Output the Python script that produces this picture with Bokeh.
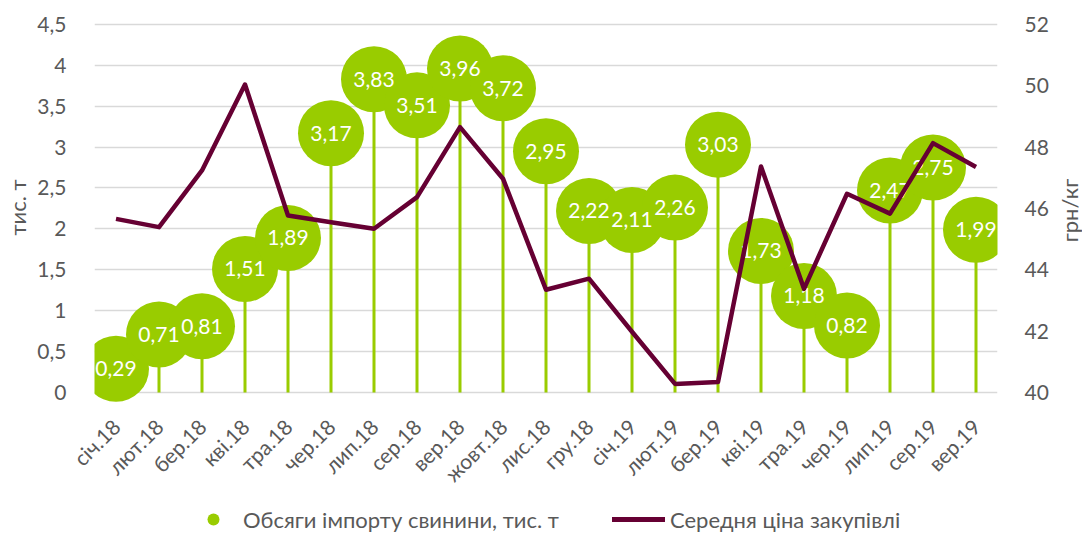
import math
from bokeh.plotting import figure
from bokeh.layouts import column, row
from bokeh.models import (Range1d, FactorRange, LinearAxis, FixedTicker, Label,
                          Legend, LegendItem, ColumnDataSource, CustomJSTickFormatter)
from bokeh.core.properties import value
from bokeh.embed import file_html
from bokeh.resources import INLINE

months = ["січ.18", "лют.18", "бер.18", "кві.18", "тра.18", "чер.18", "лип.18",
          "сер.18", "вер.18", "жовт.18", "лис.18", "гру.18", "січ.19", "лют.19",
          "бер.19", "кві.19", "тра.19", "чер.19", "лип.19", "сер.19", "вер.19"]
volumes = [0.29, 0.71, 0.81, 1.51, 1.89, 3.17, 3.83, 3.51, 3.96, 3.72, 2.95,
           2.22, 2.11, 2.26, 3.03, 1.73, 1.18, 0.82, 2.47, 2.75, 1.99]
prices = [45.66, 45.39, 47.24, 50.04, 45.77, 45.55, 45.34, 46.37, 48.65, 46.97,
          43.35, 43.71, 41.98, 40.28, 40.34, 47.37, 43.38, 46.48, 45.83, 48.13, 47.35]
volume_labels = [f"{v:.2f}".replace(".", ",") for v in volumes]
left_ticks = [0, 0.5, 1, 1.5, 2, 2.5, 3, 3.5, 4, 4.5]
right_ticks = [40, 42, 44, 46, 48, 50, 52]
series_names = ["Обсяги імпорту свинини, тис. т", "Середня ціна закупівлі"]
axis_titles = ["тис. т", "грн/кг"]

GREEN = "#99CC00"
MAROON = "#660033"
GRID = "#D9D9D9"
TXT = "#595959"
FONT = "Lato"

W, H = 1082, 533
LS_W, RS_W, LEG_H = 34, 28, 30
MAIN_W, MAIN_H = W - LS_W - RS_W, H - LEG_H
FRAME_H = 408

y_lo, y_hi = -0.1956, 4.792
scale = (right_ticks[-1] - right_ticks[0]) / (left_ticks[-1] - left_ticks[0])
p_lo = right_ticks[0] + y_lo * scale
p_hi = right_ticks[0] + y_hi * scale

p = figure(width=MAIN_W, height=MAIN_H, x_range=FactorRange(*months),
           y_range=Range1d(y_lo, y_hi), output_backend="svg", toolbar_location=None,
           min_border_left=57, min_border_right=57, min_border_top=0,
           min_border_bottom=MAIN_H - FRAME_H)
p.extra_y_ranges = {"price": Range1d(p_lo, p_hi)}
p.outline_line_color = None
p.background_fill_color = "white"
p.border_fill_color = "white"

fmt = CustomJSTickFormatter(code="return tick.toString().replace('.', ',');")

ya = p.yaxis[0]
ya.ticker = FixedTicker(ticks=left_ticks)
ya.formatter = fmt
ya.axis_line_color = None
ya.major_tick_line_color = None
ya.minor_tick_line_color = None
ya.major_label_standoff = 22
ya.major_label_text_font = FONT
ya.major_label_text_font_size = "21px"
ya.major_label_text_color = TXT

ra = LinearAxis(y_range_name="price", ticker=FixedTicker(ticks=right_ticks))
ra.axis_line_color = None
ra.major_tick_line_color = None
ra.minor_tick_line_color = None
ra.major_label_standoff = 21
ra.major_label_text_font = FONT
ra.major_label_text_font_size = "21px"
ra.major_label_text_color = TXT
p.add_layout(ra, "right")

xa = p.xaxis[0]
xa.axis_line_color = None
xa.major_tick_line_color = None
xa.minor_tick_line_color = None
xa.major_label_orientation = math.pi / 4
xa.major_label_standoff = 8
xa.major_label_text_font = FONT
xa.major_label_text_font_size = "21px"
xa.major_label_text_color = TXT

p.xgrid.grid_line_color = None
p.ygrid.ticker = FixedTicker(ticks=left_ticks)
p.ygrid.grid_line_color = GRID
p.ygrid.grid_line_width = 1.5

src = ColumnDataSource(dict(m=months, v=volumes, lab=volume_labels, pr=prices,
                            zero=[0] * len(months)))

p.segment(x0="m", y0="zero", x1="m", y1="v", source=src, line_color=GREEN, line_width=3)
p.scatter(x="m", y="v", source=src, size=66, fill_color=GREEN, line_color=None)
p.text(x="m", y="v", text="lab", source=src, text_align="center", text_baseline="middle",
       text_color="white", text_font=value(FONT), text_font_size="21px")
p.line(x="m", y="pr", source=src, y_range_name="price", line_color=MAROON,
       line_width=4.5, line_join="round")


def strip(w, h, frame_h=None):
    fh = h if frame_h is None else frame_h
    f = figure(width=w, height=h, x_range=Range1d(0, w), y_range=Range1d(0, fh),
               output_backend="svg", toolbar_location=None, x_axis_location=None,
               y_axis_location=None, min_border=0, min_border_left=0, min_border_right=0,
               min_border_top=0, min_border_bottom=h - fh)
    f.grid.visible = False
    f.outline_line_color = None
    f.background_fill_color = "white"
    f.border_fill_color = "white"
    return f


def vlabel(x, y, text):
    return Label(x=x, y=y, text=text, angle=math.pi / 2, text_align="center",
                 text_baseline="middle", text_font=FONT, text_font_size="22px",
                 text_color=TXT)


# axis titles in side strips (frames aligned with the main frame)
ls = strip(LS_W, MAIN_H, FRAME_H)
ls.add_layout(vlabel(17, FRAME_H - 207, axis_titles[0]))
rs = strip(RS_W, MAIN_H, FRAME_H)
rs.add_layout(vlabel(1069 - (LS_W + MAIN_W), FRAME_H - 210, axis_titles[1]))

# legend strip
lf = strip(W, LEG_H)
r_dot = lf.scatter(x=[-100], y=[-100], size=12, fill_color=GREEN, line_color=None)
r_line = lf.line(x=[-200, -100], y=[-100, -100], line_color=MAROON, line_width=5,
                 line_cap="round")

common = dict(orientation="horizontal", padding=0, margin=0, border_line_alpha=0,
              background_fill_alpha=0, label_text_font=FONT,
              label_text_font_size="22px", label_text_color=TXT,
              glyph_height=30, label_height=30)
leg1 = Legend(items=[LegendItem(label=series_names[0], renderers=[r_dot])],
              location=(198, -1), glyph_width=30, label_standoff=15, **common)
leg2 = Legend(items=[LegendItem(label=series_names[1], renderers=[r_line])],
              location=(612, -1), glyph_width=53, label_standoff=5, **common)
lf.add_layout(leg1)
lf.add_layout(leg2)

layout = column(row(ls, p, rs, spacing=0), lf, spacing=0)
open("out.html", "w").write(file_html(layout, INLINE))
